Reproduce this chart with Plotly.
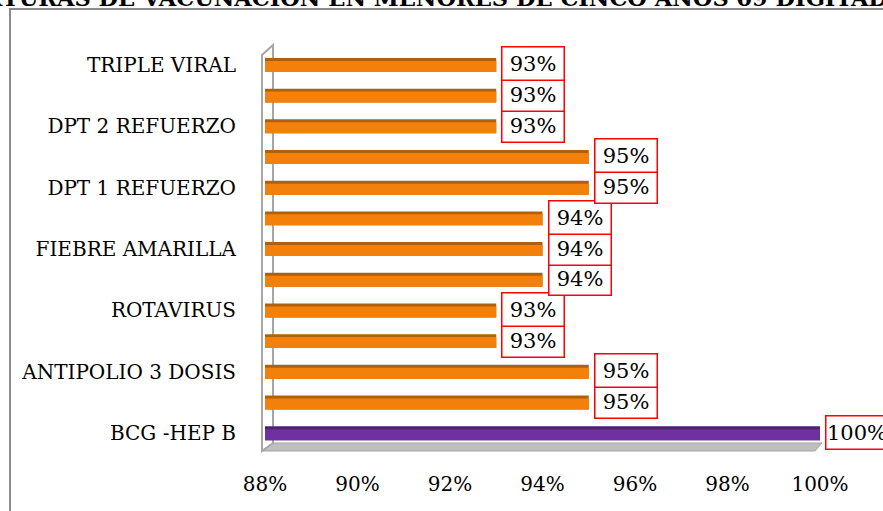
import plotly.graph_objects as go

# Data (bottom to top)
categories = ["BCG -HEP B", "", "ANTIPOLIO 3 DOSIS", "", "ROTAVIRUS", "",
              "FIEBRE AMARILLA", "", "DPT 1 REFUERZO", "", "DPT 2 REFUERZO", "",
              "TRIPLE VIRAL"]
values = [100, 95, 95, 93, 93, 94, 94, 94, 95, 95, 93, 93, 93]
labels = ["100%", "95%", "95%", "93%", "93%", "94%", "94%", "94%", "95%", "95%",
          "93%", "93%", "93%"]
x_ticks = [88, 90, 92, 94, 96, 98, 100]
x_tick_labels = ["88%", "90%", "92%", "94%", "96%", "98%", "100%"]
title_text = "COBERTURAS DE VACUNACION EN MENORES DE CINCO AÑOS 09 DIGITADAS"

rows = list(range(len(categories)))
front_colors = ["#7030A0" if i == 0 else "#F3800B" for i in rows]
top_colors = ["#4E1F72" if i == 0 else "#B0600C" for i in rows]

W, H = 883, 511
ML, MR, MT, MB = 265, 63, 48, 61
PW, PH = W - ML - MR, H - MT - MB


def px(x):
    return (x - ML) / PW


def py(y):
    return (H - MB - y) / PH


fig = go.Figure()
# top face (depth)
fig.add_trace(go.Bar(y=rows, x=values, orientation="h", offset=-0.23, width=0.455,
                     marker=dict(color=top_colors, line=dict(width=0)),
                     hoverinfo="skip", showlegend=False))
# front face
fig.add_trace(go.Bar(y=rows, x=values, orientation="h", offset=-0.23, width=0.36,
                     marker=dict(color=front_colors, line=dict(width=0)),
                     showlegend=False))

font_family = "DejaVu Serif"
annotations = []
for r, v, t in zip(rows, values, labels):
    annotations.append(dict(x=v, y=r, xref="x", yref="y", text=t, showarrow=False,
                            xanchor="left", yanchor="middle", xshift=5, yshift=1,
                            font=dict(family=font_family, size=21, color="black"),
                            bgcolor="white", bordercolor="#FF0000", borderwidth=1.5,
                            borderpad=1.5, width=58, height=29, align="center"))

annotations.append(dict(x=px(-92), y=py(13), xref="paper", yref="paper",
                        text="<b>" + title_text + "</b>", showarrow=False,
                        xanchor="left", yanchor="bottom",
                        font=dict(family=font_family, size=22.5, color="black")))

shapes = [
    # outer frame
    dict(type="rect", xref="paper", yref="paper", x0=px(10), x1=px(1200),
         y0=py(800), y1=py(9), line=dict(color="#8C8C8C", width=2),
         fillcolor="rgba(0,0,0,0)", layer="below"),
    # floor
    dict(type="path", xref="paper", yref="paper",
         path=f"M{px(263)},{py(451)} L{px(815)},{py(451)} L{px(822)},{py(443)} L{px(272)},{py(443)} Z",
         fillcolor="#BFBFBF", line=dict(color="#A6A6A6", width=1), layer="below"),
    # side wall
    dict(type="path", xref="paper", yref="paper",
         path=f"M{px(262)},{py(451)} L{px(262)},{py(55)} L{px(273)},{py(45)} L{px(273)},{py(443)} Z",
         fillcolor="white", line=dict(color="#A6A6A6", width=2), layer="below"),
]

fig.update_layout(
    width=W, height=H,
    margin=dict(l=ML, r=MR, t=MT, b=MB, pad=0),
    paper_bgcolor="white", plot_bgcolor="white",
    barmode="overlay",
    showlegend=False,
    annotations=annotations,
    shapes=shapes,
    xaxis=dict(range=[88, 100], tickmode="array", tickvals=x_ticks,
               ticktext=x_tick_labels,
               showgrid=False, zeroline=False, showline=False, ticks="",
               tickfont=dict(family=font_family, size=20, color="black"),
               ticklabelstandoff=20),
    yaxis=dict(range=[-0.55, 12.55], tickvals=rows, ticktext=categories,
               showgrid=False, zeroline=False, showline=False, ticks="",
               tickfont=dict(family=font_family, size=20, color="black"),
               ticklabelstandoff=28),
)

fig.write_html("out.html", config={"displayModeBar": False},
               post_script="document.body.style.margin='0';document.body.style.padding='0';")
